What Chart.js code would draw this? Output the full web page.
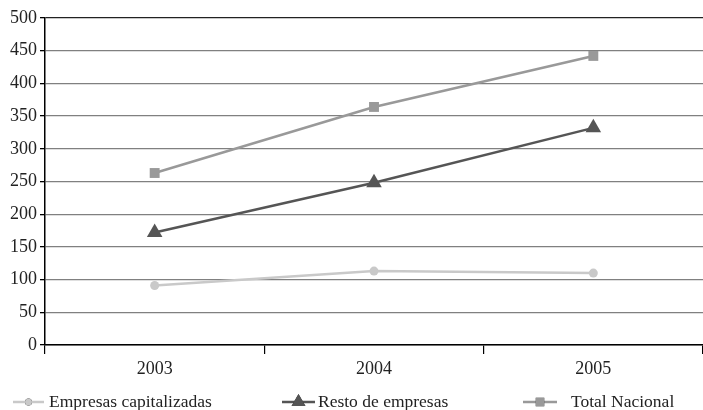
<!DOCTYPE html>
<html>
<head>
<meta charset="utf-8">
<script src="https://cdn.jsdelivr.net/npm/chart.js@4/dist/chart.umd.min.js"></script>
<style>
  html, body { margin: 0; padding: 0; background: #fff; }
  #wrap { width: 703px; height: 410px; }
</style>
</head>
<body>
<div id="wrap"><canvas id="c" width="703" height="410"></canvas></div>
<script>
const years = ['2003', '2004', '2005'];
const empresasCapitalizadas = [91, 113, 110];
const restoEmpresas = [172, 248, 332];
const totalNacional = [263, 364, 442];
const yTicks = [0, 50, 100, 150, 200, 250, 300, 350, 400, 450, 500];

const FONT = '"Liberation Serif", "DejaVu Serif", serif';

// Legend drawn along the bottom edge, each entry at its own x position
const bottomLegend = {
  id: 'bottomLegend',
  afterDraw(chart) {
    const ctx = chart.ctx;
    const y = 402;
    const entries = [
      { ds: 0, x1: 13, x2: 44, tx: 49, r: 3.5 },
      { ds: 1, x1: 282, x2: 315, tx: 318, r: 8 },
      { ds: 2, x1: 523, x2: 557, tx: 571, r: 6 }
    ];
    ctx.save();
    entries.forEach(e => {
      const ds = chart.data.datasets[e.ds];
      ctx.strokeStyle = ds.borderColor;
      ctx.lineWidth = ds.borderWidth;
      ctx.beginPath();
      ctx.moveTo(e.x1, y);
      ctx.lineTo(e.x2, y);
      ctx.stroke();
      Chart.helpers.drawPoint(ctx, {
        pointStyle: ds.pointStyle,
        radius: e.r,
        borderWidth: 0,
        rotation: 0
      }, (e.x1 + e.x2) / 2, y);
      ctx.fillStyle = ds.pointBackgroundColor;
      ctx.fill();
      ctx.fillStyle = '#222';
      ctx.font = '17.5px ' + FONT;
      ctx.textBaseline = 'middle';
      ctx.textAlign = 'left';
      ctx.fillText(ds.label, e.tx, y);
    });
    ctx.restore();
  }
};

new Chart(document.getElementById('c'), {
  type: 'line',
  data: {
    labels: years,
    datasets: [
      {
        label: 'Empresas capitalizadas',
        data: empresasCapitalizadas,
        borderColor: '#c9c9c9',
        backgroundColor: '#c9c9c9',
        pointBackgroundColor: '#c9c9c9',
        pointBorderWidth: 0,
        borderWidth: 2.5,
        pointStyle: 'circle',
        pointRadius: 4.5
      },
      {
        label: 'Resto de empresas',
        data: restoEmpresas,
        borderColor: '#555555',
        backgroundColor: '#555555',
        pointBackgroundColor: '#555555',
        pointBorderWidth: 0,
        borderWidth: 2.5,
        pointStyle: 'triangle',
        pointRadius: 9
      },
      {
        label: 'Total Nacional',
        data: totalNacional,
        borderColor: '#999999',
        backgroundColor: '#999999',
        pointBackgroundColor: '#999999',
        pointBorderWidth: 0,
        borderWidth: 2.5,
        pointStyle: 'rect',
        pointRadius: 7
      }
    ]
  },
  options: {
    responsive: false,
    animation: false,
    layout: { autoPadding: false, padding: { top: 18, right: 0, left: 0, bottom: 0 } },
    plugins: {
      legend: { display: false },
      tooltip: { enabled: false }
    },
    scales: {
      x: {
        offset: true,
        grid: {
          offset: true,
          drawOnChartArea: false,
          drawTicks: true,
          tickLength: 9,
          color: '#000',
          lineWidth: 1.2
        },
        border: { display: true, color: '#000', width: 1.5 },
        ticks: {
          color: '#222',
          font: { family: FONT, size: 18 },
          padding: 4
        },
        afterFit(scale) {
          scale.height = 65;
          scale.paddingLeft = 0;
          scale.paddingRight = 0;
        }
      },
      y: {
        min: 0,
        max: 500,
        afterBuildTicks(scale) { scale.ticks = yTicks.map(v => ({ value: v })); },
        grid: {
          color: ctx => (ctx.tick && ctx.tick.value === 500 ? '#222' : '#808080'),
          lineWidth: 1.3,
          tickLength: 5,
          tickColor: '#000'
        },
        border: { display: true, color: '#000', width: 1.5 },
        ticks: {
          color: '#222',
          font: { family: FONT, size: 18 },
          padding: 3
        },
        afterFit(scale) {
          scale.width = 45;
          scale.paddingTop = 0;
        }
      }
    }
  },
  plugins: [bottomLegend]
});
</script>
</body>
</html>
